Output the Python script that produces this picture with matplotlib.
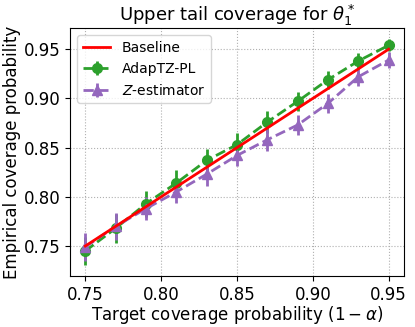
import numpy as np
from matplotlib import pyplot as plt

target = [0.75, 0.77, 0.79, 0.81, 0.83, 0.85, 0.87, 0.89, 0.91, 0.93, 0.95]
adaptz = [0.745, 0.768, 0.793, 0.814, 0.837, 0.853, 0.876, 0.897, 0.919, 0.938, 0.954]
adaptz_err = [0.014, 0.015, 0.013, 0.013, 0.012, 0.012, 0.011, 0.010, 0.009, 0.008, 0.006]
zest = [0.749, 0.770, 0.788, 0.805, 0.823, 0.842, 0.858, 0.873, 0.895, 0.922, 0.939]
zest_err = [0.014, 0.014, 0.012, 0.011, 0.012, 0.011, 0.011, 0.010, 0.010, 0.009, 0.008]

plt.rcParams['font.size'] = 12

fig, ax = plt.subplots(figsize=(4.15, 3.27), dpi=100)
ax.plot(target, target, color='red', lw=2, label='Baseline', zorder=3)
ax.errorbar(target, adaptz, yerr=adaptz_err, color='tab:green', ls='--', lw=2,
            marker='o', ms=7, elinewidth=2, label='AdapTZ-PL')
ax.errorbar(target, zest, yerr=zest_err, color='tab:purple', ls='--', lw=2,
            marker='^', ms=7, elinewidth=2, label='$Z$-estimator')
ax.grid(True, ls=':', color='#b0b0b0')
ax.set_xticks([0.75, 0.80, 0.85, 0.90, 0.95])
ax.set_yticks([0.75, 0.80, 0.85, 0.90, 0.95])
ax.set_title(r'Upper tail coverage for $\theta_1^*$', fontsize=13, pad=4)
ax.set_xlabel(r'Target coverage probability $(1-\alpha)$', labelpad=0)
ax.set_ylabel('Empirical coverage probability', labelpad=2)
ax.legend(loc='upper left', fontsize=10)
fig.subplots_adjust(left=0.169, right=0.973, top=0.914, bottom=0.156)
fig.savefig('out.png')
